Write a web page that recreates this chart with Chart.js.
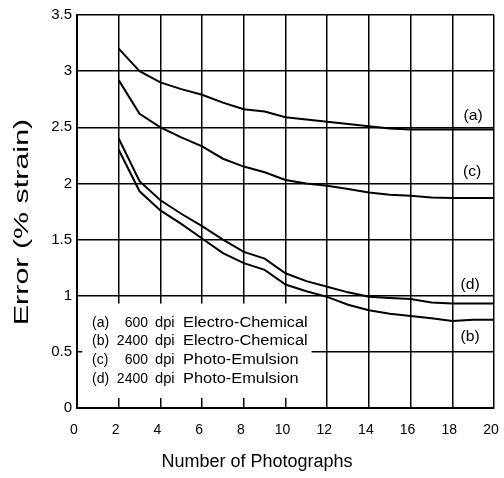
<!DOCTYPE html>
<html>
<head>
    <title>Error vs Number of Photographs</title>
    <style>
        * { margin: 0; padding: 0; box-sizing: border-box; }
        body { background: #fff; width: 504px; height: 478px; overflow: hidden; }
        .container { position: relative; width: 504px; height: 478px; }
    </style>
</head>
<body>
    <div class="container">
        <canvas id="errChart" width="504" height="478"></canvas>
    </div>
    <script src="https://cdn.jsdelivr.net/npm/chart.js"></script>
    <script>
        // Dados
        var photos = [2, 3, 4, 5, 6, 7, 8, 9, 10, 11, 12, 13, 14, 15, 16, 17, 18, 19, 20];
        var serieA = [3.2, 3.0, 2.9, 2.84, 2.79, 2.72, 2.66, 2.64, 2.59, 2.57, 2.55, 2.53, 2.51, 2.49, 2.48, 2.48, 2.48, 2.48, 2.48];
        var serieB = [2.3, 1.93, 1.76, 1.64, 1.51, 1.38, 1.29, 1.23, 1.1, 1.04, 0.99, 0.92, 0.87, 0.84, 0.82, 0.8, 0.775, 0.785, 0.785];
        var serieC = [2.92, 2.62, 2.5, 2.41, 2.33, 2.22, 2.15, 2.1, 2.03, 2.0, 1.98, 1.95, 1.92, 1.9, 1.89, 1.875, 1.87, 1.87, 1.87];
        var serieD = [2.4, 2.02, 1.85, 1.73, 1.62, 1.5, 1.39, 1.33, 1.2, 1.13, 1.08, 1.03, 0.99, 0.98, 0.97, 0.94, 0.93, 0.93, 0.93];
        var tags = ['(a)', '(b)', '(c)', '(d)'];
        var legendLines = [
            ['(a)', '600', 'dpi', 'Electro-Chemical'],
            ['(b)', '2400', 'dpi', 'Electro-Chemical'],
            ['(c)', '600', 'dpi', 'Photo-Emulsion'],
            ['(d)', '2400', 'dpi', 'Photo-Emulsion']
        ];
        var xTitle = 'Number of Photographs';
        var yTitle = 'Error (% strain)';

        function pontos(serie) {
            return photos.map(function (n, i) { return { x: n, y: serie[i] }; });
        }

        function linha(serie) {
            return {
                data: pontos(serie),
                borderColor: '#000',
                borderWidth: 2,
                pointRadius: 0,
                tension: 0,
                fill: false
            };
        }

        // texto esticado na horizontal (a fonte do original é larga)
        function textoLargo(ctx, txt, px, py, esc, align) {
            ctx.save();
            ctx.translate(px, py);
            ctx.scale(esc, 1);
            ctx.textAlign = align;
            ctx.fillText(txt, 0, 0);
            ctx.restore();
        }

        // Caixa da legenda, rótulos das curvas e títulos dos eixos
        var extras = {
            id: 'extras',
            beforeDatasetsDraw: function (chart) {
                var ctx = chart.ctx, x = chart.scales.x, y = chart.scales.y;
                ctx.save();
                ctx.fillStyle = '#fff';
                var l = x.getPixelForValue(0.25), r = x.getPixelForValue(11.25);
                var t = y.getPixelForValue(0.93), b = y.getPixelForValue(0.09);
                ctx.fillRect(l, t, r - l, b - t);
                ctx.restore();
            },
            afterDraw: function (chart) {
                var ctx = chart.ctx, x = chart.scales.x, y = chart.scales.y;
                var area = chart.chartArea;
                ctx.save();
                ctx.fillStyle = '#000';

                // rótulos (a)..(d) à direita
                ctx.font = '15px Arial';
                ctx.textBaseline = 'middle';
                var tagPos = [[19, 2.6], [18.85, 0.635], [18.95, 2.1], [18.85, 1.1]];
                tags.forEach(function (tg, i) {
                    textoLargo(ctx, tg, x.getPixelForValue(tagPos[i][0]), y.getPixelForValue(tagPos[i][1]), 1.05, 'center');
                });

                // legenda
                ctx.font = '14px Arial';
                var y0 = y.getPixelForValue(0.76);
                legendLines.forEach(function (ln, i) {
                    var yy = y0 + i * 18.8;
                    textoLargo(ctx, ln[0], area.left + 15, yy, 1.0, 'left');
                    textoLargo(ctx, ln[1], area.left + 71, yy, 1.0, 'right');
                    textoLargo(ctx, ln[2], area.left + 78, yy, 1.05, 'left');
                    textoLargo(ctx, ln[3], area.left + 106, yy, 1.17, 'left');
                });

                // títulos dos eixos
                ctx.font = '18px Arial';
                textoLargo(ctx, xTitle, 257, 462, 1.0, 'center');
                ctx.translate(22, 222);
                ctx.rotate(-Math.PI / 2);
                ctx.font = '21px Arial';
                textoLargo(ctx, yTitle, 0, 0, 1.45, 'center');
                ctx.restore();
            }
        };

        var ctx = document.getElementById('errChart').getContext('2d');
        var errChart = new Chart(ctx, {
            type: 'line',
            data: {
                datasets: [linha(serieA), linha(serieB), linha(serieC), linha(serieD)]
            },
            options: {
                responsive: false,
                animation: false,
                layout: { padding: { top: 15, right: 10, left: 0, bottom: 0 } },
                plugins: { legend: { display: false }, tooltip: { enabled: false } },
                scales: {
                    x: {
                        type: 'linear',
                        min: 0,
                        max: 20,
                        ticks: { stepSize: 2, maxRotation: 0, labelOffset: -3, color: '#000', font: { family: 'Arial', size: 14 }, padding: 14 },
                        grid: { color: '#000', lineWidth: 1.5, drawTicks: false },
                        border: { color: '#000', width: 2 },
                        afterFit: function (s) { s.height = 70; s.paddingLeft = 0; s.paddingRight = 0; }
                    },
                    y: {
                        min: 0,
                        max: 3.5,
                        ticks: {
                            stepSize: 0.5, color: '#000', font: { family: 'Arial', size: 15 }, padding: 5,
                            callback: function (v) { return String(v); }
                        },
                        grid: { color: '#000', lineWidth: 1.5, drawTicks: false },
                        border: { color: '#000', width: 2 },
                        afterFit: function (s) { s.width = 77; s.paddingTop = 0; s.paddingBottom = 0; }
                    }
                }
            },
            plugins: [extras]
        });
    </script>
</body>
</html>
